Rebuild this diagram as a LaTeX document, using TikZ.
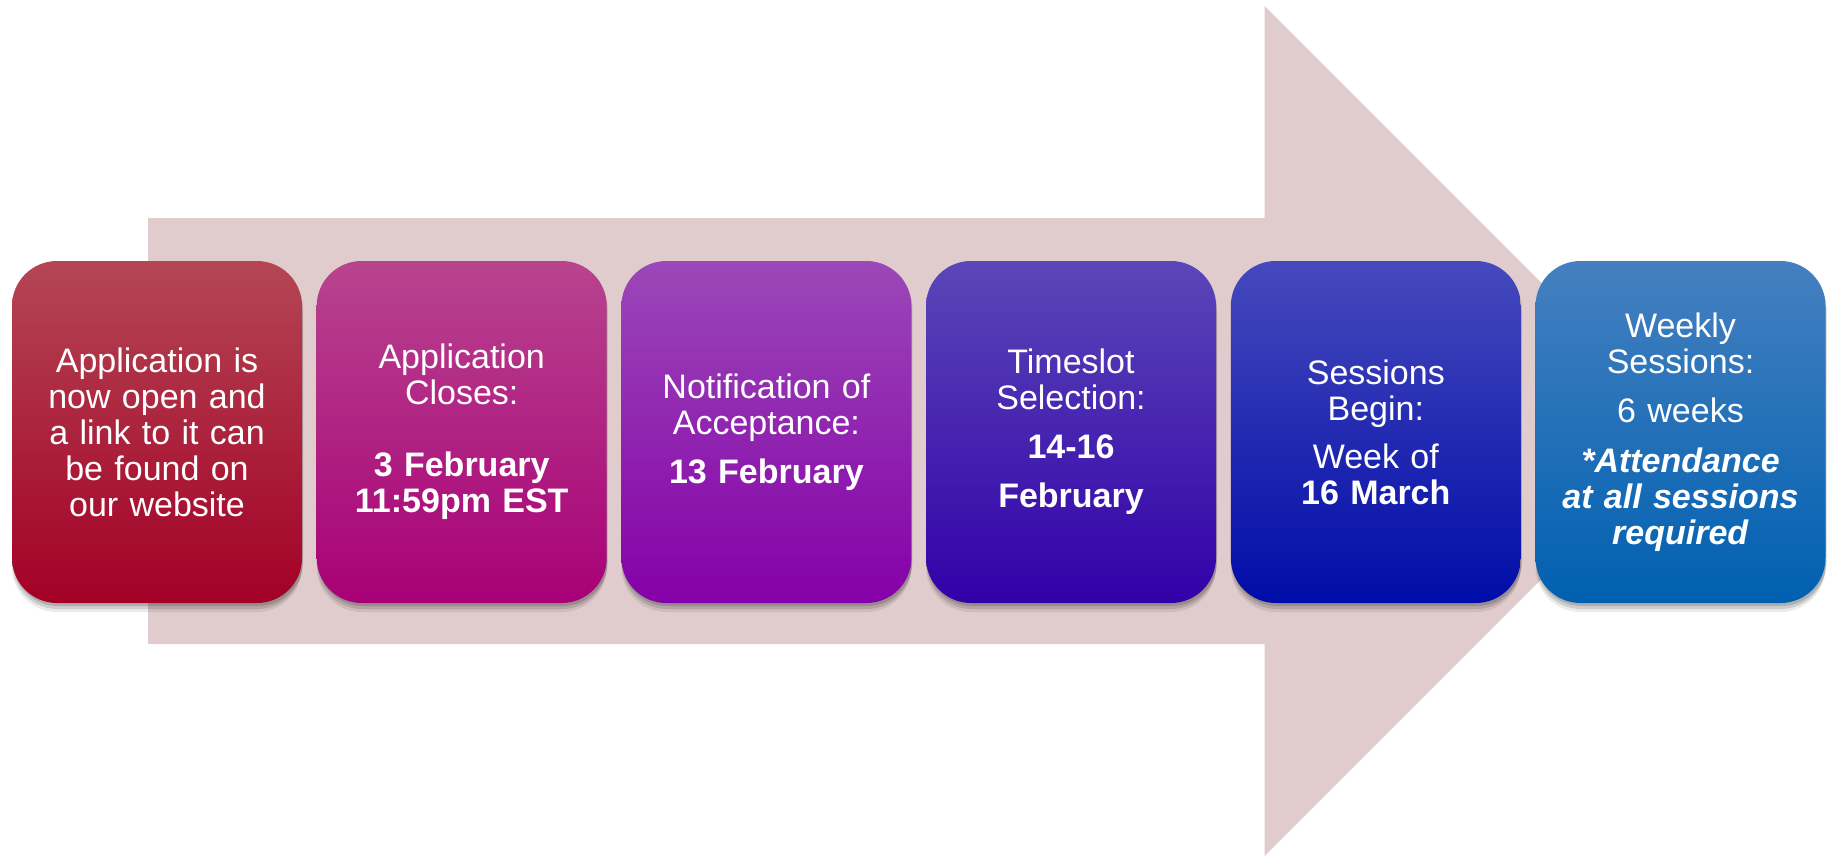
\documentclass[tikz,border=0pt]{standalone}
\usepackage{fontspec}
\setmainfont{Liberation Sans}
\usetikzlibrary{shadows}
\definecolor{arrowfill}{RGB}{224,204,205}
\definecolor{aT}{RGB}{180,70,84}\definecolor{aM}{RGB}{174,18,54}\definecolor{aB}{RGB}{163,0,38}
\definecolor{bT}{RGB}{184,68,142}\definecolor{bM}{RGB}{181,5,128}\definecolor{bB}{RGB}{168,0,119}
\definecolor{cT}{RGB}{155,72,184}\definecolor{cM}{RGB}{138,14,180}\definecolor{cB}{RGB}{133,0,168}
\definecolor{dT}{RGB}{91,71,184}\definecolor{dM}{RGB}{58,10,180}\definecolor{dB}{RGB}{50,0,168}
\definecolor{eT}{RGB}{70,73,188}\definecolor{eM}{RGB}{12,22,184}\definecolor{eB}{RGB}{0,12,168}
\definecolor{fT}{RGB}{69,128,192}\definecolor{fM}{RGB}{12,110,191}\definecolor{fB}{RGB}{0,96,176}
\tikzset{
  stage/.style={rounded corners=45pt, minimum width=290pt, minimum height=342pt,
    inner sep=0pt, text width=280pt, align=center, text=white,
    font=\fontsize{34}{36}\selectfont,
    drop shadow={shadow xshift=0pt, shadow yshift=-9pt, opacity=0.08, fill=black},
    drop shadow={shadow xshift=0.5pt, shadow yshift=-6pt, opacity=0.12, fill=black},
    drop shadow={shadow xshift=1pt, shadow yshift=-3pt, opacity=0.15, fill=black}},
  shade3/.style n args={3}{top color=#1, middle color=#2, bottom color=#3},
}
\begin{document}
\begin{tikzpicture}[x=1pt,y=-1pt]
\useasboundingbox (0,0) rectangle (1829,856);
\fill[arrowfill] (148,218) -- (1264.5,218) -- (1264.5,6) -- (1689.5,431)
  -- (1264.5,856) -- (1264.5,644) -- (148,644) -- cycle;
\node[stage, shade3={aT}{aM}{aB}] (b1) at (157,432)
  {Application is\\now open and\\a link to it can\\be found on\\our website};
\node[stage, shade3={bT}{bM}{bB}] (b2) at (461.7,432)
  {Application\\Closes:\\[36pt]\textbf{3 February}\\\textbf{11:59pm EST}};
\node[stage, shade3={cT}{cM}{cB}] (b3) at (766.4,432)
  {Notification of\\Acceptance:\\[13pt]\textbf{13 February}};
\node[stage, shade3={dT}{dM}{dB}] (b4) at (1071,432)
  {Timeslot\\Selection:\\[13pt]\textbf{14-16}\\[13pt]\textbf{February}};
\node[stage, shade3={eT}{eM}{eB}] (b5) at (1375.8,432)
  {Sessions\\Begin:\\[12pt]Week of\\\textbf{16 March}};
\node[stage, shade3={fT}{fM}{fB}] (b6) at (1680.5,432)
  {Weekly\\Sessions:\\[13pt]6 weeks\\[14pt]\textbf{\textit{*Attendance}}\\\textbf{\textit{at all sessions}}\\\textbf{\textit{required}}};
\end{tikzpicture}
\end{document}
